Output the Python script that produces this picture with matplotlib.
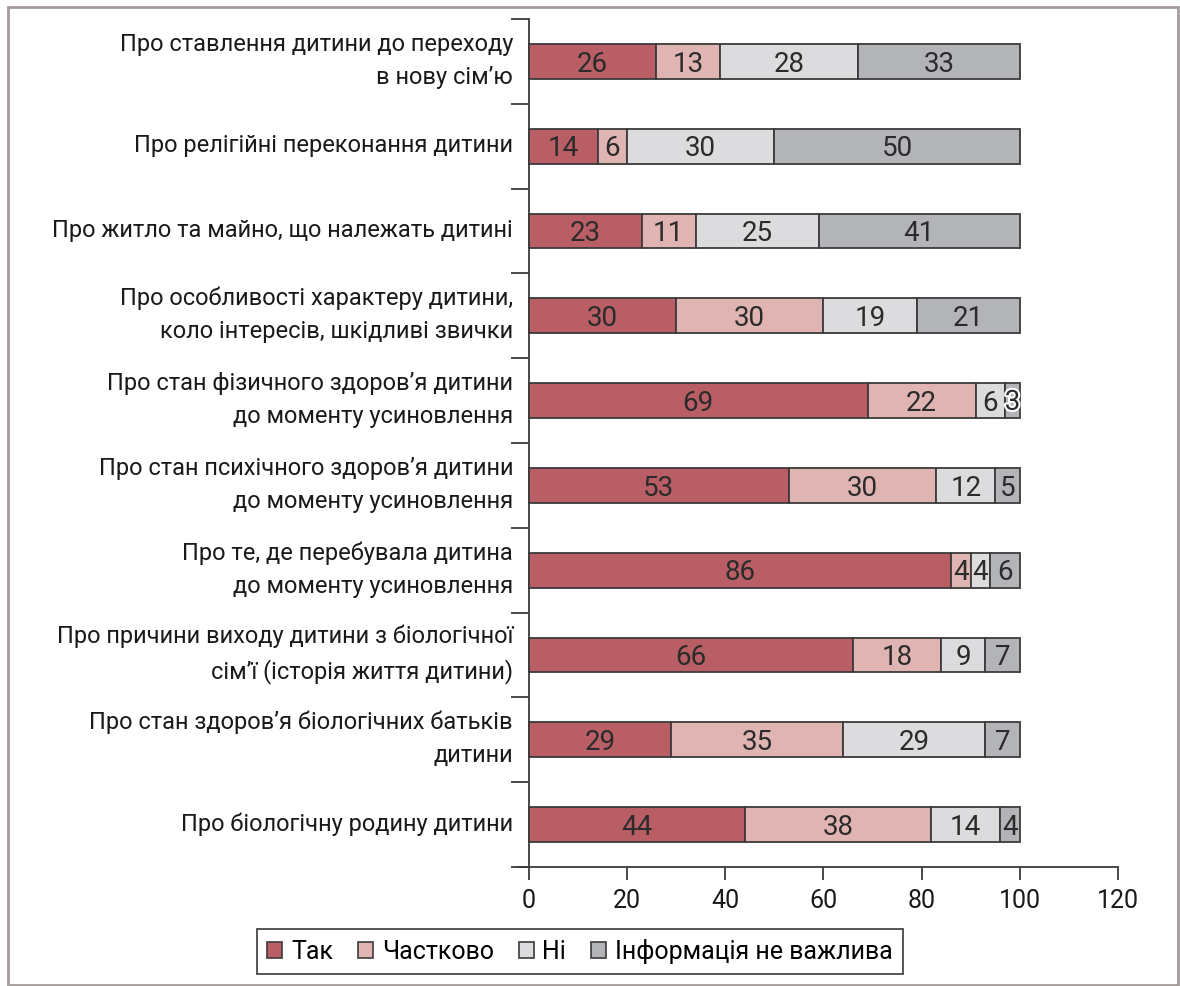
import matplotlib
matplotlib.use("Agg")
import matplotlib.pyplot as plt
import matplotlib.patheffects as pe
from matplotlib.patches import Rectangle
from matplotlib import font_manager
import numpy as np

avail = {f.name for f in font_manager.fontManager.ttflist}
main_font = "Liberation Sans Narrow" if "Liberation Sans Narrow" in avail else "Roboto"
plt.rcParams['font.family'] = [main_font, 'DejaVu Sans']

categories = [
    "Про ставлення дитини до переходу\nв нову сім’ю",
    "Про релігійні переконання дитини",
    "Про житло та майно, що належать дитині",
    "Про особливості характеру дитини,\nколо інтересів, шкідливі звички",
    "Про стан фізичного здоров’я дитини\nдо моменту усиновлення",
    "Про стан психічного здоров’я дитини\nдо моменту усиновлення",
    "Про те, де перебувала дитина\nдо моменту усиновлення",
    "Про причини виходу дитини з біологічної\nсім’ї (історія життя дитини)",
    "Про стан здоров’я біологічних батьків\nдитини",
    "Про біологічну родину дитини",
]
series_names = ["Так", "Частково", "Ні", "Інформація не важлива"]
tak = [26, 14, 23, 30, 69, 53, 86, 66, 29, 44]
chastkovo = [13, 6, 11, 30, 22, 30, 4, 18, 35, 38]
ni = [28, 30, 25, 19, 6, 12, 4, 9, 29, 14]
ne_vazhlyva = [33, 50, 41, 21, 3, 5, 6, 7, 7, 4]
xticks = [0, 20, 40, 60, 80, 100, 120]

colors = ["#b85e64", "#dfb4b3", "#dcdcdf", "#b3b4b8"]
edge = "#3c3a3a"
FS_LAB = 17
FS_NUM = 20
FS_TICK = 18
FS_LEG = 18

W, H = 1180, 987
fig = plt.figure(figsize=(W / 100, H / 100), dpi=100)
ax = fig.add_axes([519 / W, 1 - 868 / H, (1118 - 519) / W, (868 - 20) / H])

y = np.arange(len(categories))
left = np.zeros(len(categories))
for vals, col in zip([tak, chastkovo, ni, ne_vazhlyva], colors):
    vals = np.array(vals, dtype=float)
    ax.barh(y, vals, left=left, height=0.41, color=col, edgecolor=edge, linewidth=1.3, zorder=3)
    for yi, (l, v) in enumerate(zip(left, vals)):
        cx = l + v / 2
        txt = ax.text(cx, yi + 0.02, f"{int(v)}", ha="center", va="center", fontsize=FS_NUM,
                      color="#2b2b2b", zorder=4)
        if v <= 3:
            txt.set_path_effects([pe.withStroke(linewidth=3, foreground="white")])
    left = left + vals

ax.set_xlim(-2, 120)
ax.set_ylim(len(categories) - 0.5, -0.5)
ax.set_xticks(xticks)
ax.set_xticklabels([str(t) for t in xticks])
ax.set_yticks(y)
ax.set_yticklabels([])
ax.set_yticks(np.arange(-0.5, len(categories), 1.0), minor=True)
ax.tick_params(axis="both", which="major", labelcolor="#1a1a1a")
ax.tick_params(axis="x", which="major", labelsize=FS_TICK)
ax.tick_params(axis="y", which="major", length=0)
ax.tick_params(axis="y", which="minor", length=13, width=1.3, color="#3c3a3a")
ax.tick_params(axis="x", which="major", length=9, width=1.3, color="#3c3a3a", pad=6)

# category labels (right-aligned left of the axis)
ytrans = ax.get_yaxis_transform()
for yi, cat in enumerate(categories):
    ax.text(-0.01, yi - 0.02, cat, transform=ytrans, ha="right", va="center",
            fontsize=FS_LAB, color="#1a1a1a", linespacing=1.55, multialignment="right")

for s in ["top", "right"]:
    ax.spines[s].set_visible(False)
ax.spines["left"].set_position(("data", 0))
for s in ["left", "bottom"]:
    ax.spines[s].set_color("#3c3a3a")
    ax.spines[s].set_linewidth(1.3)

handles = [Rectangle((0, 0), 1, 1, facecolor=c, edgecolor=edge, linewidth=1.2) for c in colors]
leg = fig.legend(handles, series_names, loc="center", bbox_to_anchor=(580 / W, 1 - 952 / H),
                 ncol=4, fontsize=FS_LEG, frameon=True, fancybox=False, edgecolor="#1a1a1a",
                 handlelength=0.6, handleheight=0.6, handletextpad=0.35, columnspacing=1.0,
                 borderpad=0.4, borderaxespad=0)
leg.get_frame().set_linewidth(1.3)

fig.patches.append(Rectangle((8 / W, 1 / H), (1178 - 8) / W, (979 - 1) / H,
                             transform=fig.transFigure, fill=False,
                             edgecolor="#a39b9c", linewidth=2))

fig.savefig("out.png", dpi=100)
